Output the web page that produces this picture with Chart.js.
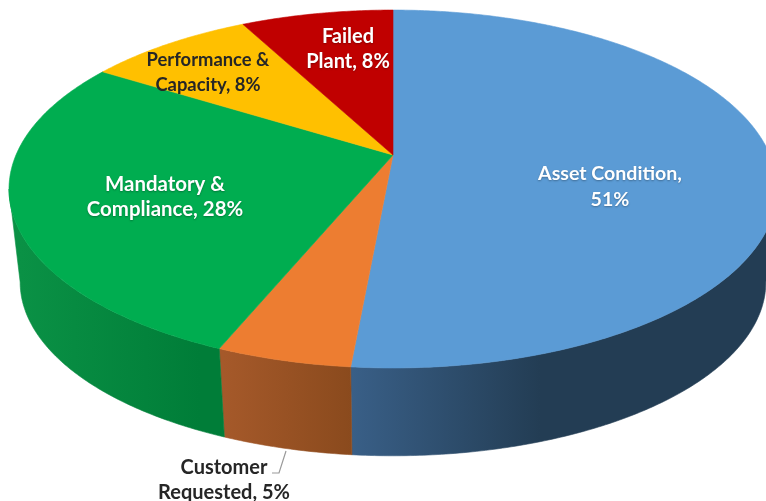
<!DOCTYPE html>
<html>
<head>
<meta charset="utf-8">
<style>html,body{margin:0;padding:0;background:#fff;overflow:hidden}canvas{display:block}</style>
<script src="https://cdn.jsdelivr.net/npm/chart.js@4/dist/chart.umd.js"></script>
</head>
<body>
<canvas id="c" width="766" height="501"></canvas>
<script>
// Data
const categories = ['Asset Condition', 'Customer Requested', 'Mandatory & Compliance', 'Performance & Capacity', 'Failed Plant'];
const sliceValues = [51.45, 4.75, 27.7, 8.4, 7.7];
const labelHeads = ['Asset Condition,', 'Customer', 'Mandatory &', 'Performance &', 'Failed'];
const labelTails = ['', 'Requested,', 'Compliance,', 'Capacity,', 'Plant,'];

// Styles
const topColors = ['#5B9BD5', '#ED7D31', '#00AD50', '#FFC000', '#C00000'];
const textColors = ['#ffffff', '#262626', '#ffffff', '#262626', '#ffffff'];
const wallShades = [
  { x0: 352, x1: 540, from: '#395F87', to: '#233D54' },
  { x0: 224, x1: 352, from: '#A5592A', to: '#8A4A1D' },
  { x0: 20, x1: 200, from: '#0A9145', to: '#007D38' },
  { x0: 0, x1: 1, from: '#7F6000', to: '#7F6000' },
  { x0: 0, x1: 1, from: '#7F0000', to: '#7F0000' }
];
const labelAnchors = [
  { x: 610, y: 174, gap: 26, size: 19.6 },
  { x: 224, y: 468, gap: 25, size: 20 },
  { x: 165, y: 184, gap: 25, size: 20.4 },
  { x: 208, y: 60, gap: 25, size: 18.4 },
  { x: 348, y: 37, gap: 25, size: 20 }
];

// Perspective of the pie's plane
const apex = { x: 393, y: 155 };
const persp = { k: 0.19, a: 377, b: 172.5 };
const wallScale = 0.971;
const wallCentreY = 249;
const frontFrom = Math.asin(persp.k);
const frontTo = Math.PI - frontFrom;

function project(angle, lower) {
  const u = Math.cos(angle), v = Math.sin(angle);
  const w = 1 - persp.k * v;
  const dx = persp.a * u / w, dy = persp.b * v / w;
  if (lower) return { x: apex.x + wallScale * dx, y: wallCentreY + wallScale * dy };
  return { x: apex.x + dx, y: apex.y + dy };
}
function rim(start, end) {
  const n = Math.max(2, Math.ceil(Math.abs(end - start) / 0.01));
  const out = [];
  for (let i = 0; i <= n; i++) out.push(start + (end - start) * i / n);
  return out;
}

// Top faces: the library's arc elements, drawn in the pie's perspective
Chart.ArcElement.prototype.draw = function (ctx) {
  const { startAngle, endAngle } = this.getProps(['startAngle', 'endAngle']);
  ctx.save();
  ctx.fillStyle = this.options.backgroundColor;
  ctx.strokeStyle = this.options.backgroundColor;
  ctx.lineWidth = 0.6;
  ctx.beginPath();
  ctx.moveTo(apex.x, apex.y);
  rim(startAngle, endAngle).forEach(a => { const p = project(a, false); ctx.lineTo(p.x, p.y); });
  ctx.closePath();
  ctx.fill();
  ctx.stroke();
  ctx.restore();
};

const wallsPlugin = {
  id: 'walls',
  beforeDatasetsDraw(chart) {
    const ctx = chart.ctx;
    chart.getDatasetMeta(0).data.forEach((arc, i) => {
      const { startAngle, endAngle } = arc.getProps(['startAngle', 'endAngle']);
      // only the front of the rim shows a wall
      const from = Math.max(startAngle, frontFrom);
      const to = Math.min(endAngle, frontTo);
      if (to <= from) return;
      const angles = rim(from, to);
      const s = wallShades[i];
      const g = ctx.createLinearGradient(s.x0, 0, s.x1, 0);
      g.addColorStop(0, s.from);
      g.addColorStop(1, s.to);
      ctx.save();
      ctx.fillStyle = g;
      ctx.strokeStyle = g;
      ctx.lineWidth = 0.6;
      ctx.beginPath();
      angles.forEach((a, n) => {
        const p = project(a, false);
        if (n === 0) ctx.moveTo(p.x, p.y); else ctx.lineTo(p.x, p.y);
      });
      angles.slice().reverse().forEach(a => { const p = project(a, true); ctx.lineTo(p.x, p.y); });
      ctx.closePath();
      ctx.fill();
      ctx.stroke();
      ctx.restore();
    });
  }
};

const labelsPlugin = {
  id: 'sliceLabels',
  afterDatasetsDraw(chart) {
    const ctx = chart.ctx;
    // leader line of the outside label
    ctx.save();
    ctx.strokeStyle = '#9A9A9A';
    ctx.lineWidth = 1.2;
    ctx.beginPath();
    ctx.moveTo(286, 451);
    ctx.lineTo(279, 473);
    ctx.lineTo(272, 473);
    ctx.stroke();
    ctx.restore();

    sliceValues.forEach((value, i) => {
      const pct = Math.round(value) + '%';
      const head = labelHeads[i];
      const tail = labelTails[i] ? labelTails[i] + ' ' + pct : pct;
      const at = labelAnchors[i];
      ctx.save();
      ctx.font = 'bold ' + at.size + 'px Lato, "Open Sans", sans-serif';
      ctx.textAlign = 'center';
      ctx.textBaseline = 'middle';
      ctx.fillStyle = textColors[i];
      if (textColors[i] === '#ffffff') {
        ctx.shadowColor = 'rgba(0,0,0,0.3)';
        ctx.shadowBlur = 2;
        ctx.shadowOffsetY = 1;
      }
      ctx.fillText(head, at.x, at.y);
      ctx.fillText(tail, at.x, at.y + at.gap);
      ctx.restore();
    });
  }
};

new Chart(document.getElementById('c'), {
  type: 'pie',
  data: {
    labels: categories,
    datasets: [{ data: sliceValues, backgroundColor: topColors, borderWidth: 0 }]
  },
  options: {
    responsive: false,
    animation: false,
    events: [],
    plugins: { legend: { display: false }, tooltip: { enabled: false } }
  },
  plugins: [wallsPlugin, labelsPlugin]
});
</script>
</body>
</html>
